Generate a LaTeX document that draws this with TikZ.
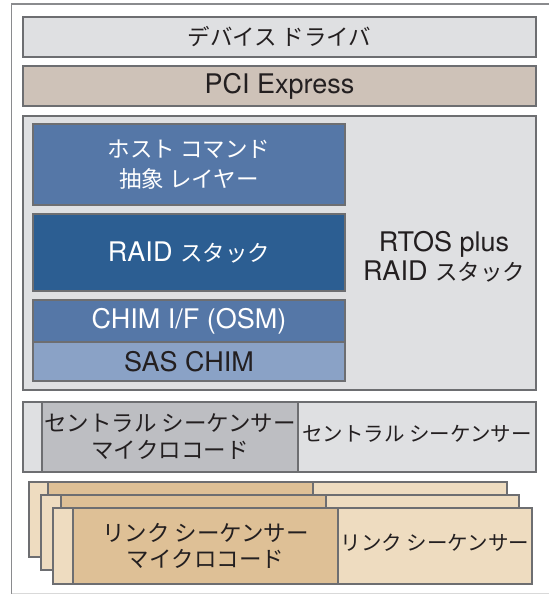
\documentclass[tikz,border=0pt]{standalone}
\usepackage{fontspec}
\setmainfont{TeX Gyre Heros}
\newfontfamily\jp{Noto Sans CJK JP}
\newcommand{\J}[1]{{\jp\fontsize{22.5}{29}\selectfont #1}}
\definecolor{bordc}{HTML}{6D6E71}
\definecolor{lgray}{HTML}{DFE0E2}
\definecolor{pcic}{HTML}{CEC2B8}
\definecolor{blue1}{HTML}{5577A7}
\definecolor{blue2}{HTML}{2C5E92}
\definecolor{blue3}{HTML}{8AA2C6}
\definecolor{mgray}{HTML}{BDBEC2}
\definecolor{tanl}{HTML}{EEDCC0}
\definecolor{tand}{HTML}{DEC096}
\definecolor{inkc}{HTML}{231F20}
\tikzset{
  box/.style={draw=bordc, line width=1.3pt, inner sep=0pt, outer sep=0pt, anchor=north west, align=center,
    font=\fontsize{27}{29}\selectfont, text=inkc},
  wtext/.style={text=white},
  lbl/.style={inner sep=0pt, align=center, font=\fontsize{27}{29}\selectfont, text=inkc},
  jright/.style={inner sep=0pt, align=center, font=\jp\fontsize{20.5}{27}\selectfont, text=inkc}
}
\newcommand{\bx}[8]{% name, x1, y1, x2, y2, fill, style, text
  \node[box, fill=#6, #7, minimum width={(#4-#2)*1pt}, minimum height={(#5-#3)*1pt}] (#1) at (#2,#3) {#8};}
\begin{document}
\begin{tikzpicture}[x=1pt, y=-1pt]
\useasboundingbox (0,0) rectangle (549,594);
\fill[white] (0,0) rectangle (549,594);
% outer frame
\draw[bordc!80, line width=1.2pt] (11.5,594) -- (11.5,4) -- (549,4);
\draw[black!15, line width=1pt] (11.5,593) -- (549,593);
% top layers
\bx{dd}{23}{17}{536}{57}{lgray}{}{\J{デバイス ドライバ}}
\bx{pci}{23}{66}{536}{106}{pcic}{}{PCI Express}
% firmware box
\bx{fw}{23}{116}{536}{390}{lgray}{}{}
\bx{host}{33}{124}{345}{205}{blue1}{wtext, font=\jp\fontsize{22.5}{30}\selectfont}{ホスト コマンド\\抽象 レイヤー}
\bx{raid}{33}{214}{345}{291}{blue2}{wtext}{RAID \J{スタック}}
\bx{chim}{33}{300}{345}{342}{blue1}{wtext}{CHIM I/F (OSM)}
\bx{sas}{33}{342}{345}{381}{blue3}{}{SAS CHIM}
\node[lbl] (rtos) at (444,257) {RTOS plus\\RAID \J{スタック}};
% central sequencer
\bx{cs}{23}{402}{536}{472}{lgray}{}{}
\bx{csm}{42}{402}{298}{472}{mgray}{font=\jp\fontsize{22.5}{27}\selectfont}{セントラル シーケンサー\\マイクロコード}
\node[jright] (csr) at (417,434) {セントラル シーケンサー};
% link sequencers (stacked)
\bx{la}{29}{482}{507}{557}{tanl}{}{}
\bx{lam}{48}{482}{313}{557}{tand}{}{}
\bx{lb}{41}{495}{519}{570}{tanl}{}{}
\bx{lbm}{61}{495}{326}{570}{tand}{}{}
\bx{lc}{53}{508}{532}{584}{tanl}{}{}
\bx{lcm}{73}{508}{338}{584}{tand}{font=\jp\fontsize{22.5}{26}\selectfont}{リンク シーケンサー\\マイクロコード}
\node[jright] (lcr) at (435,543) {リンク シーケンサー};
\end{tikzpicture}
\end{document}
